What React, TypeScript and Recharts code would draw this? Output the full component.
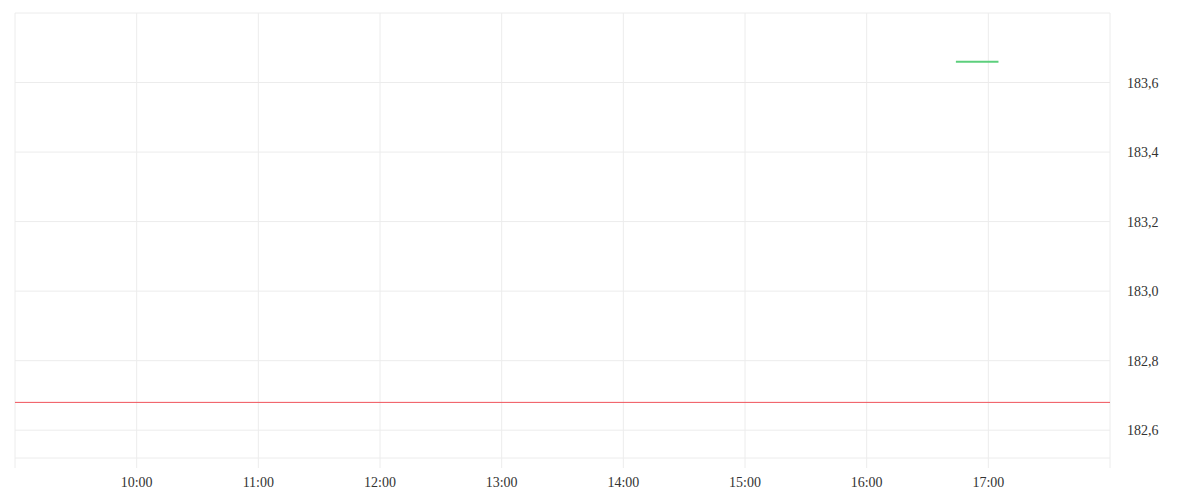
import type { JSX } from 'react'
import {
  LineChart,
  Line,
  XAxis,
  YAxis,
  CartesianGrid,
  ReferenceLine,
} from 'recharts'

// time in minutes since midnight
const sessionStart = 540
const sessionEnd = 1080
const hourTicks = [540, 600, 660, 720, 780, 840, 900, 960, 1020, 1080]

const priceTimes = [1004, 1010, 1015, 1020, 1025]
const priceValues = [183.66, 183.66, 183.66, 183.66, 183.66]

const previousClose = 182.68

const yMin = 182.52
const yMax = 183.8
const priceTicks = [182.52, 182.6, 182.8, 183.0, 183.2, 183.4, 183.6, 183.8]

const data = priceTimes.map((t, i) => ({ t, price: priceValues[i] }))

const fontFamily = '"Liberation Serif", serif'

const formatTime = (m: number): string => {
  if (m === sessionStart || m === sessionEnd) return ''
  const h = Math.floor(m / 60)
  const mm = m % 60
  return `${h}:${mm.toString().padStart(2, '0')}`
}

const formatPrice = (v: number): string => {
  if (v === yMin || v === yMax) return ''
  return v.toFixed(1).replace('.', ',')
}

export default function App(): JSX.Element {
  return (
    <LineChart
      width={1192}
      height={492}
      data={data}
      margin={{ top: 5, right: 0, bottom: 0, left: 7 }}
    >
      <CartesianGrid stroke="#ececec" />
      <XAxis
        dataKey="t"
        type="number"
        domain={[sessionStart, sessionEnd]}
        ticks={hourTicks}
        tickFormatter={formatTime}
        axisLine={false}
        tickLine={{ stroke: '#ececec' }}
        tickSize={10}
        tickMargin={9}
        height={42}
        tick={{ fill: '#333', fontSize: 14, fontFamily }}
        interval={0}
      />
      <YAxis
        orientation="right"
        type="number"
        domain={[yMin, yMax]}
        ticks={priceTicks}
        tickFormatter={formatPrice}
        axisLine={false}
        tickLine={false}
        tickSize={0}
        tickMargin={17}
        width={90}
        tick={{ fill: '#333', fontSize: 14, fontFamily, textAnchor: 'start' }}
        interval={0}
      />
      <ReferenceLine y={previousClose} stroke="#f0525b" strokeWidth={1} />
      <Line
        dataKey="price"
        stroke="#5ccf7c"
        strokeWidth={2}
        dot={false}
        isAnimationActive={false}
      />
    </LineChart>
  )
}
